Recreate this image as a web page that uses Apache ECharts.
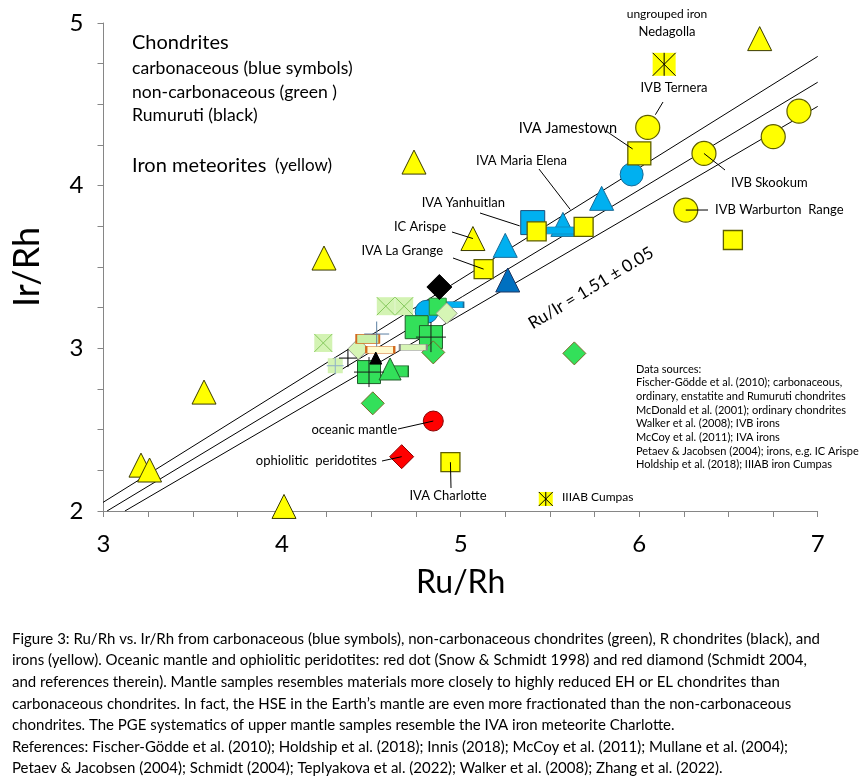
<!DOCTYPE html>
<html><head><meta charset="utf-8">
<script src="https://cdn.jsdelivr.net/npm/echarts@6/dist/echarts.min.js"></script>
<style>html,body{margin:0;padding:0;background:#fff}#c{width:861px;height:778px}</style>
</head><body><div id="c"></div>
<script>
// ---------- data (Ru/Rh, Ir/Rh) ----------
const ironTriangles = [[6.675,4.904],[4.739,4.145],[5.069,3.675],[4.235,3.555],[3.563,2.731],[4.011,2.028],[3.21,2.282],[3.258,2.252]];
const ironSquares = [[6.525,3.666],[5.689,3.747],[5.426,3.719],[5.129,3.487],[4.943,2.300]];
const ironSquaresLarge = [[6.001,4.198]];
const ironCircles = [[6.048,4.358],[6.363,4.198],[6.751,4.301],[6.895,4.458],[6.261,3.850]];
const ironStarLarge = [[6.140,4.746]];
const ironStarSmall = [[5.477,2.074]];
const blueCircles = [[5.958,4.069],[4.810,3.225]];
const blueTriangles = [[5.573,3.762],[5.790,3.922],[5.250,3.633]];
const darkBlueTriangles = [[5.264,3.420]];
const blueSquares = [[5.404,3.773]];
const blueBarsWide = [[5.557,3.725]];
const blueBarsSmall = [[4.969,3.268]];
const greenSquares = [[4.754,3.130],[4.834,3.069],[4.487,2.854]];
const greenSquaresSmall = [[4.872,3.256]];
const greenTriangles = [[4.605,2.873]];
const greenBars = [[4.651,2.859]];
const greenCircles = [[4.633,2.996],[5.099,2.988]];
const greenDiamonds = [[4.847,2.975],[5.637,2.969],[4.508,2.662]];
const paleCrossSquares = [[4.581,3.259],[4.684,3.259],[4.231,3.033]];
const palePlusSquares = [[4.298,2.893]];
const paleDiamonds = [[4.922,3.215],[4.427,2.996]];
const paleBarsOrange = [[4.480,3.058]];
const yellowBarsOrange = [[4.550,2.991]];
const paleBarsGray = [[4.735,3.007]];
const blackDiamonds = [[4.881,3.377]];
const blackTriangles = [[4.525,2.940]];
const blackPlus = [[4.369,2.940]];
const greenSquarePlus = [[4.834,3.069],[4.487,2.854]];
const steelPlus = [[4.530,3.088]];
const redCircles = [[4.847,2.553]];
const redDiamonds = [[4.670,2.334]];
const ruIrRatios = [1.46, 1.51, 1.56];
const xTicks = [3,4,5,6,7];
const yTicks = [2,3,4,5];

const FONT = 'Lato, "Open Sans", sans-serif';
const X_PATH = 'path://M0,0L10,10M10,0L0,10';
const STAR_PATH = 'path://M0,0L10,10M10,0L0,10M5,0L5,10';
const PLUS_PATH = 'path://M5,0L5,10M0,5L10,5';

function sc(data, symbol, size, fill, border, bw, z) {
  return {type:'scatter', data, symbol, symbolSize:size, z:z||3, silent:true,
    itemStyle:{color:fill, borderColor:border, borderWidth:bw, opacity:1},
    emphasis:{disabled:true}, animation:false};
}

const lineSeries = ruIrRatios.map(r => ({
  type:'line', data:[[2*r,2],[7,7/r]], symbol:'none', silent:true, z:2, animation:false,
  lineStyle:{color:'#000', width:1}, clip:true
}));

const series = [
  ...lineSeries,
  sc(paleCrossSquares, 'rect', 18, '#d3f3b3', '#d3f3b3', 0, 3),
  sc(paleCrossSquares, X_PATH, 18, 'rgba(0,0,0,0)', '#86c95e', 1, 3),
  sc(palePlusSquares, 'rect', 15, '#d3f3b3', '#d3f3b3', 0, 3),
  sc(palePlusSquares, PLUS_PATH, 17, 'rgba(0,0,0,0)', '#8fb0c8', 1, 3),
  sc(blueCircles, 'circle', 23, '#00b0f0', '#1b6b96', 1, 3),
  sc(blueBarsSmall, 'rect', [17,6], '#00b0f0', '#1b6b96', 1, 3),
  sc(greenSquares, 'rect', 23, '#33e05a', '#1f5f2a', 1, 4),
  sc(greenSquaresSmall, 'rect', 17, '#33e05a', '#2b8a3a', 1, 4),
  sc(paleDiamonds, 'diamond', 21, '#d6f5b5', '#9aa08f', 1, 4),
  sc(greenDiamonds, 'diamond', 23, '#33e05a', '#7a6a2a', 1, 4),
  sc(greenCircles, 'circle', [21], '#33e05a', '#a0522d', 1, 4),
  sc(paleBarsOrange, 'rect', [23,9], '#c9f0a8', '#d2691e', 1.2, 5),
  sc(yellowBarsOrange, 'rect', [28,7], '#fffacd', '#d2691e', 1.2, 5),
  sc(paleBarsGray, 'rect', [27,6], '#d6f5b5', '#8a8a8a', 1, 5),
  sc(greenBars, 'rect', [20,11], '#33e05a', '#1f5f2a', 1, 4),
  sc(greenTriangles, 'triangle', 22, '#33e05a', '#1f5f2a', 1, 5),
  sc(greenSquarePlus, PLUS_PATH, 30, 'rgba(0,0,0,0)', '#1a1a1a', 1, 6),
  sc(blackPlus, PLUS_PATH, 18, 'rgba(0,0,0,0)', '#000', 1, 6),
  sc(steelPlus, PLUS_PATH, 25, 'rgba(0,0,0,0)', '#5b7fa3', 1, 6),
  sc(blackTriangles, 'triangle', 12, '#000', '#000', 1, 6),
  sc(blackDiamonds, 'diamond', 25, '#000', '#000', 1, 6),
  sc(blueTriangles, 'triangle', 24, '#00b0f0', '#1b6b96', 1, 5),
  sc(blueSquares, 'rect', 24, '#00b0f0', '#1b4f7a', 1, 5),
  sc(blueBarsWide, 'rect', [30,7], '#00b0f0', '#1b6b96', 1, 5),
  sc(darkBlueTriangles, 'triangle', 24, '#0070c0', '#1f3864', 1, 5),
  sc(ironTriangles, 'triangle', 24, '#ffff00', '#3a3a00', 1, 7),
  sc(ironSquares, 'rect', 19, '#ffff00', '#5e5e00', 1.3, 7),
  sc(ironSquaresLarge, 'rect', 23, '#ffff00', '#5e5e00', 1.3, 7),
  sc(ironCircles, 'circle', 24, '#ffff00', '#5e5e00', 1.2, 7),
  sc(ironStarLarge, 'rect', 23, '#ffff00', '#ffff00', 0, 7),
  sc(ironStarLarge, STAR_PATH, 23, 'rgba(0,0,0,0)', '#000', 1, 8),
  sc(ironStarSmall, 'rect', 14, '#ffff00', '#ffff00', 0, 7),
  sc(ironStarSmall, STAR_PATH, 14, 'rgba(0,0,0,0)', '#000', 1, 8),
  sc(redCircles, 'circle', 20, '#ff0000', '#8b0000', 1, 7),
  sc(redDiamonds, 'diamond', 24, '#ff0000', '#8b0000', 1, 7)
];

const axisCommon = {
  axisLine:{show:true, lineStyle:{color:'#868686', width:1}},
  axisTick:{show:true, inside:false, length:6, lineStyle:{color:'#868686'}},
  minorTick:{show:true, splitNumber:4, length:6, lineStyle:{color:'#868686'}},
  splitLine:{show:false},
  axisLabel:{color:'#000', fontSize:24, fontFamily:FONT}
};

// annotation texts (pixel anchored) with leader lines to their data points
const annotations = [
  {text:'ungrouped iron', x:667, y:14, size:12, align:'center'},
  {text:'Nedagolla', x:667, y:32, size:13, align:'center'},
  {text:'IVB Ternera', x:674, y:88, size:13, align:'center', from:[663,102], to:ironCircles[0], frac:0.5},
  {text:'IVA Jamestown', x:617, y:128, size:14.5, align:'right', from:[606,131], to:ironSquaresLarge[0], frac:0.2},
  {text:'IVB Skookum', x:731, y:183, size:13, align:'left', from:[725,170], to:ironCircles[1], frac:0.0},
  {text:'IVB Warburton  Range', x:715, y:210, size:13, align:'left', from:[708,210], to:ironCircles[4], frac:0.0},
  {text:'IVA Maria Elena', x:567, y:161, size:13, align:'right', from:[539,169], to:ironSquares[1], frac:0.3},
  {text:'IVA Yanhuitlan', x:505, y:203, size:13, align:'right', from:[480,213], to:ironSquares[2], frac:0.3},
  {text:'IC Arispe', x:446, y:227, size:13, align:'right', from:[452,232], to:ironTriangles[2], frac:0.0},
  {text:'IVA La Grange', x:443, y:251, size:13, align:'right', from:[453,258], to:ironSquares[3], frac:0.0},
  {text:'oceanic mantle', x:397, y:430, size:13, align:'right', from:[398,429], to:redCircles[0], frac:0.0},
  {text:'ophiolitic  peridotites', x:377, y:461, size:13, align:'right', from:[382,461], to:redDiamonds[0], frac:0.0},
  {text:'IVA Charlotte', x:448, y:496, size:13, align:'center', from:[451,488], to:ironSquares[4], frac:0.0},
  {text:'IIIAB Cumpas', x:562, y:497, size:12, align:'left'}
];

const legendTexts = [
  {text:'Chondrites', x:132, y:43, size:20},
  {text:'carbonaceous (blue symbols)', x:132, y:68, size:17.6},
  {text:'non-carbonaceous (green )', x:132, y:92, size:17.6},
  {text:'Rumuruti (black)', x:132, y:115, size:17.6}
];
const sourceLines = ['Data sources:',
  'Fischer-Gödde et al. (2010); carbonaceous,',
  'ordinary, enstatite and Rumuruti chondrites',
  'McDonald et al. (2001); ordinary chondrites',
  'Walker et al. (2008); IVB irons',
  'McCoy et al. (2011); IVA irons',
  'Petaev & Jacobsen (2004); irons, e.g. IC Arispe',
  'Holdship et al. (2018); IIIAB iron Cumpas'];
const captionLines = [
  'Figure 3: Ru/Rh vs. Ir/Rh from carbonaceous (blue symbols), non-carbonaceous chondrites (green), R chondrites (black), and',
  'irons (yellow). Oceanic mantle and ophiolitic peridotites: red dot (Snow & Schmidt 1998) and red diamond (Schmidt 2004,',
  'and references therein). Mantle samples resembles materials more closely to highly reduced EH or EL chondrites than',
  'carbonaceous chondrites. In fact, the HSE in the Earth\u2019s mantle are even more fractionated than the non-carbonaceous',
  'chondrites. The PGE systematics of upper mantle samples resemble the IVA iron meteorite Charlotte.',
  'References: Fischer-Gödde et al. (2010); Holdship et al. (2018); Innis (2018); McCoy et al. (2011); Mullane et al. (2004);',
  'Petaev & Jacobsen (2004); Schmidt (2004); Teplyakova et al. (2022); Walker et al. (2008); Zhang et al. (2022).'];

function txt(text, x, y, size, align, extra) {
  return Object.assign({type:'text', x, y, z:100, silent:true,
    style:{text, font: size+'px '+FONT, fill:'#000', textAlign:align||'left', textVerticalAlign:'middle'}}, extra||{});
}

const chart = echarts.init(document.getElementById('c'), null, {renderer:'canvas'});
const option = {
  animation:false,
  backgroundColor:'#fff',
  grid:{left:103.5, right:43.3, top:23, bottom:267, containLabel:false},
  xAxis:Object.assign({type:'value', min:xTicks[0], max:xTicks[xTicks.length-1], interval:1,
    name:'Ru/Rh', nameLocation:'middle', nameGap:56,
    nameTextStyle:{fontSize:32, fontFamily:FONT, color:'#000'}}, axisCommon,
    {axisLabel:Object.assign({}, axisCommon.axisLabel, {margin:21})}),
  yAxis:Object.assign({type:'value', min:yTicks[0], max:yTicks[yTicks.length-1], interval:1,
    name:'Ir/Rh', nameLocation:'middle', nameGap:58, nameRotate:90,
    nameTextStyle:{fontSize:36, fontFamily:FONT, color:'#000'}}, axisCommon,
    {axisLabel:Object.assign({}, axisCommon.axisLabel, {margin:20})}),
  series
};
chart.setOption(option);

const g = [];
legendTexts.forEach(t => g.push(txt(t.text, t.x, t.y, t.size)));
g.push({type:'text', x:132, y:166, z:100, silent:true, style:{
  text:'{a|Iron meteorites}{b|  (yellow)}', textVerticalAlign:'middle', fill:'#000',
  rich:{a:{fontSize:20, fontFamily:FONT, fill:'#000'}, b:{fontSize:17, fontFamily:FONT, fill:'#000'}}}});
annotations.forEach(a => {
  g.push(txt(a.text, a.x, a.y, a.size, a.align));
  if (a.from) {
    const p = chart.convertToPixel({gridIndex:0}, a.to);
    const ex = p[0] + (a.from[0]-p[0])*a.frac, ey = p[1] + (a.from[1]-p[1])*a.frac;
    g.push({type:'line', z:99, silent:true, shape:{x1:a.from[0], y1:a.from[1], x2:ex, y2:ey},
      style:{stroke:'#000', lineWidth:1}});
  }
});
g.push(txt('Ru/Ir = 1.51 \u00b1 0.05', 591, 288, 17, 'center', {rotation: Math.atan(0.6035)}));
sourceLines.forEach((s,i) => g.push(txt(s, 636, 369 + i*13.7, 11, 'left')));
captionLines.forEach((s,i) => g.push(txt(s, 12, 639 + i*21.6, 15, 'left')));
chart.setOption({graphic:{elements:g}});
</script></body></html>
